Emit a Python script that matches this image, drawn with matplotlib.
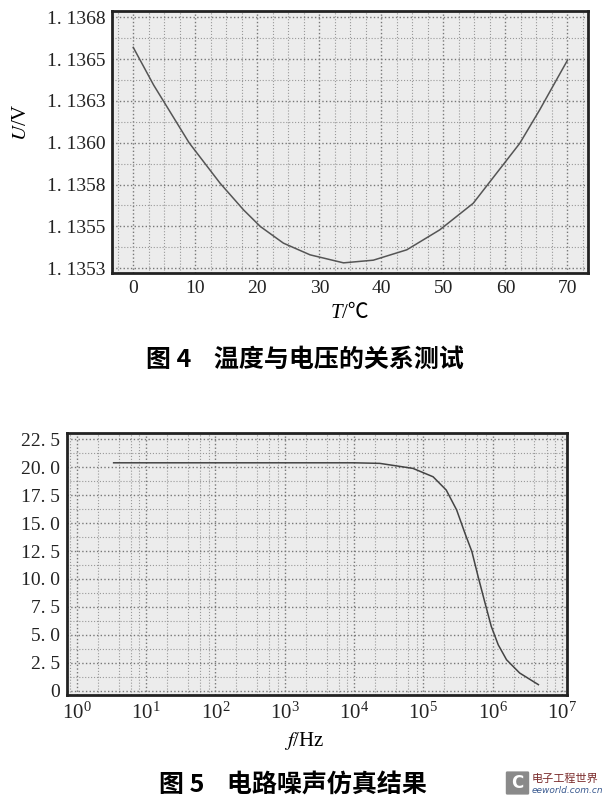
import matplotlib
matplotlib.use("Agg")
import matplotlib.pyplot as plt
from matplotlib.patches import FancyBboxPatch
from matplotlib.ticker import AutoMinorLocator, LogLocator, NullFormatter

plt.rcParams['font.family'] = ['Liberation Serif', 'Noto Sans CJK SC', 'DejaVu Sans']
plt.rcParams['mathtext.fontset'] = 'stix'

# fig 4: temperature vs voltage
temp = [0, 3.3, 9.0, 14.0, 17.8, 20.5, 24.2, 28.5, 33.9, 38.7, 44.1, 49.4,
        54.8, 59.6, 62.3, 65.5, 68.2, 70]
volt = [1.13657, 1.136344, 1.13600, 1.135758, 1.135598, 1.135499, 1.135400,
        1.135330, 1.135282, 1.135298, 1.135360, 1.135479, 1.135638, 1.135867,
        1.135996, 1.136195, 1.136374, 1.136493]
t_ticks = [0, 10, 20, 30, 40, 50, 60, 70]
u_ticks = [1.13525, 1.1355, 1.13575, 1.136, 1.13625, 1.1365, 1.13675]
u_labels = ["1. 1353", "1. 1355", "1. 1358", "1. 1360", "1. 1363", "1. 1365", "1. 1368"]

# fig 5: noise simulation vs frequency (decade exponent of f)
f_exp = [0.53, 1, 2, 3, 4, 4.37, 4.85, 5.14, 5.33, 5.48, 5.60, 5.70, 5.79,
         5.89, 5.98, 6.08, 6.20, 6.39, 6.66]
noise = [20.4, 20.4, 20.4, 20.4, 20.4, 20.35, 19.9, 19.15, 17.96, 16.18, 14.09,
         12.45, 10.21, 7.84, 5.75, 4.11, 2.77, 1.58, 0.54]
freq = [10 ** e for e in f_exp]
f_ticks = [1e0, 1e1, 1e2, 1e3, 1e4, 1e5, 1e6, 1e7]
n_ticks = [0, 2.5, 5, 7.5, 10, 12.5, 15, 17.5, 20, 22.5]
n_labels = ["0", "2. 5", "5. 0", "7. 5", "10. 0", "12. 5", "15. 0", "17. 5", "20. 0", "22. 5"]

fig = plt.figure(figsize=(6.03, 8.05), dpi=100)


def style_axes(ax):
    ax.set_facecolor('#ececec')
    for s in ax.spines.values():
        s.set_linewidth(2)
        s.set_color('#222')
    ax.grid(which='major', color='#777', linestyle=':', linewidth=1)
    ax.grid(which='minor', color='#999', linestyle=':', linewidth=0.8)
    ax.tick_params(which='both', length=0, labelsize=14, colors='#222', pad=5)


# --- top chart ---
ax1 = fig.add_axes([0.186, 0.661, 0.789, 0.325])
ax1.plot(temp, volt, color='#555', linewidth=1.1)
ax1.set_xlim(-3.4, 73.3)
ax1.set_ylim(1.135222, 1.136786)
ax1.set_xticks(t_ticks)
ax1.set_yticks(u_ticks, u_labels)
ax1.xaxis.set_minor_locator(AutoMinorLocator(4))
ax1.yaxis.set_minor_locator(AutoMinorLocator(2))
style_axes(ax1)

# axis labels (℃ needs the CJK fallback, so no mathtext here)
fig.text(0.567, 1 - 313 / 805, "T", ha='right', va='center', fontsize=15,
         style='italic')
fig.text(0.567, 1 - 313 / 805, "/℃", ha='left', va='center', fontsize=15)
fig.text(0.035, 1 - 122 / 805, "$U$/V", ha='center', va='center', fontsize=15,
         rotation=90)

fig.text(0.506, 1 - 360 / 805, "图 4    温度与电压的关系测试", ha='center',
         va='center', fontsize=18, fontweight='bold', family=['Noto Sans CJK SC'])

# --- bottom chart ---
ax2 = fig.add_axes([0.111, 0.137, 0.829, 0.325])
ax2.plot(freq, noise, color='#444', linewidth=1.1)
ax2.set_xscale('log')
ax2.set_xlim(10**-0.144, 10**7.07)
ax2.set_ylim(-0.36, 23.06)
ax2.set_xticks(f_ticks)
ax2.xaxis.set_minor_locator(LogLocator(base=10, subs=[2, 4, 6, 8], numticks=20))
ax2.xaxis.set_minor_formatter(NullFormatter())
ax2.set_yticks(n_ticks, n_labels)
ax2.yaxis.set_minor_locator(AutoMinorLocator(2))
style_axes(ax2)
ax2.tick_params(axis='x', labelsize=15, pad=6)
fig.text(0.505, 1 - 741 / 805, "$f$/Hz", ha='center', va='center', fontsize=15)

fig.text(0.486, 1 - 785 / 805, "图 5    电路噪声仿真结果", ha='center',
         va='center', fontsize=18, fontweight='bold', family=['Noto Sans CJK SC'])

# watermark logo
logo = FancyBboxPatch((507 / 603, 1 - 793 / 805), 21 / 603, 20 / 805,
                      boxstyle='round,pad=0.002', fc='#8a8a8a', ec='none',
                      transform=fig.transFigure)
fig.patches.append(logo)
fig.text(517.5 / 603, 1 - 783 / 805, "C", ha='center', va='center', fontsize=12,
         color='white', fontweight='bold', family=['DejaVu Sans'])
fig.text(532 / 603, 1 - 779 / 805, "电子工程世界", ha='left', va='center',
         fontsize=8, color='#7a2a2a', family=['Noto Sans CJK SC'])
fig.text(532 / 603, 1 - 790 / 805, "eeworld.com.cn", ha='left', va='center',
         fontsize=6.5, color='#3a5a90', style='italic', family=['DejaVu Sans'])

fig.savefig("out.png", dpi=100)
